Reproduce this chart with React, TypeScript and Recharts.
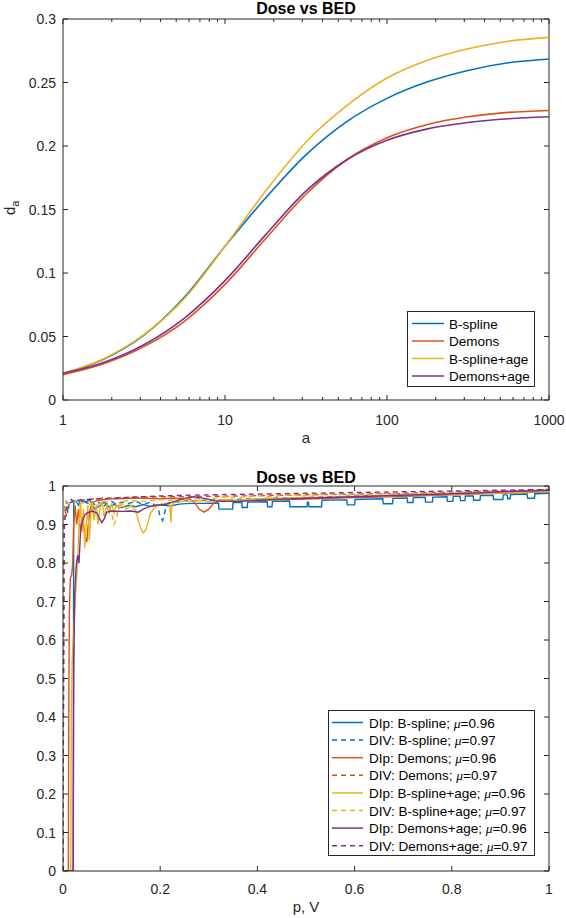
import React from "react";
import { LineChart, Line, XAxis, YAxis, Legend, ReferenceLine } from "recharts";

const FONT = '"Liberation Sans", Arial, Helvetica, sans-serif';
const AX = "#262626";
const BLUE = "#0072BD";
const ORANGE = "#D95319";
const YELLOW = "#EDB120";
const PURPLE = "#7E2F8E";

// top chart: dose vs a (log axis), sampled every quarter decade
const A = [1, 1.78, 3.16, 5.62, 10, 17.8, 31.6, 56.2, 100, 178, 316, 562, 1000];
const BSPLINE = [0.021, 0.032, 0.051, 0.081, 0.121, 0.159, 0.193, 0.219, 0.2375, 0.2505, 0.2595, 0.2655, 0.2685];
const DEMONS = [0.02, 0.0285, 0.042, 0.062, 0.091, 0.127, 0.162, 0.189, 0.2065, 0.217, 0.223, 0.2265, 0.228];
const BSPLINE_AGE = [0.021, 0.0325, 0.0515, 0.08, 0.121, 0.1645, 0.203, 0.2315, 0.2535, 0.2675, 0.2765, 0.2825, 0.2855];
const DEMONS_AGE = [0.021, 0.0295, 0.0435, 0.0645, 0.094, 0.13, 0.1645, 0.189, 0.2045, 0.2135, 0.2185, 0.2215, 0.223];
const A_TICKS = [1, 2, 3, 4, 5, 6, 7, 8, 9, 10, 20, 30, 40, 50, 60, 70, 80, 90, 100, 200, 300, 400, 500, 600, 700, 800, 900, 1000];
const A_MAJOR = [1, 10, 100, 1000];
const D_TICKS = [0, 0.05, 0.1, 0.15, 0.2, 0.25, 0.3];

// bottom chart: [p, value] per series
const DIP_BS: [number, number][] = [
  [0, 0], [0.021, 0], [0.022, 0.955], [0.026, 0.962], [0.032, 0.95], [0.036, 0.963], [0.045, 0.958], [0.055, 0.964],
  [0.065, 0.94], [0.075, 0.948], [0.085, 0.958], [0.095, 0.945], [0.105, 0.952], [0.12, 0.944], [0.135, 0.95],
  [0.15, 0.946], [0.165, 0.952], [0.18, 0.947], [0.2, 0.951], [0.22, 0.948], [0.24, 0.953], [0.26, 0.955],
  [0.29, 0.955], [0.32, 0.956], [0.321, 0.94], [0.349, 0.94], [0.35, 0.957], [0.368, 0.957], [0.369, 0.944],
  [0.379, 0.944], [0.38, 0.958], [0.42, 0.959], [0.421, 0.946], [0.43, 0.946], [0.431, 0.96], [0.466, 0.961],
  [0.467, 0.946], [0.502, 0.946], [0.503, 0.958], [0.505, 0.958], [0.506, 0.946], [0.532, 0.946], [0.533, 0.963],
  [0.584, 0.964], [0.585, 0.951], [0.6, 0.951], [0.601, 0.965], [0.658, 0.967], [0.659, 0.954], [0.678, 0.954],
  [0.679, 0.968], [0.708, 0.969], [0.709, 0.957], [0.72, 0.957], [0.721, 0.97], [0.745, 0.97], [0.746, 0.958],
  [0.76, 0.958], [0.761, 0.971], [0.79, 0.972], [0.791, 0.96], [0.802, 0.96], [0.803, 0.973], [0.817, 0.973],
  [0.818, 0.962], [0.827, 0.962], [0.828, 0.974], [0.844, 0.974], [0.845, 0.963], [0.858, 0.963], [0.859, 0.975],
  [0.885, 0.976], [0.886, 0.965], [0.905, 0.965], [0.906, 0.977], [0.914, 0.977], [0.915, 0.967], [0.92, 0.967],
  [0.921, 0.978], [0.955, 0.979], [0.956, 0.968], [0.97, 0.968], [0.971, 0.98], [1, 0.981],
];
const DIV_BS: [number, number][] = [
  [0, 0], [0.001, 0.55], [0.002, 0.88], [0.004, 0.95], [0.007, 0.962], [0.01, 0.93], [0.013, 0.958], [0.017, 0.965],
  [0.022, 0.96], [0.028, 0.966], [0.035, 0.958], [0.042, 0.963], [0.05, 0.955], [0.058, 0.962], [0.066, 0.95],
  [0.074, 0.958], [0.082, 0.945], [0.09, 0.955], [0.1, 0.96], [0.11, 0.952], [0.12, 0.958], [0.135, 0.955],
  [0.15, 0.96], [0.165, 0.952], [0.18, 0.958], [0.195, 0.945], [0.2, 0.92], [0.205, 0.91], [0.21, 0.935],
  [0.215, 0.955], [0.23, 0.958], [0.26, 0.962], [0.3, 0.963], [0.35, 0.965], [0.4, 0.967], [0.45, 0.969],
  [0.5, 0.97], [0.55, 0.972], [0.6, 0.974], [0.65, 0.975], [0.7, 0.977], [0.75, 0.978], [0.8, 0.98],
  [0.85, 0.982], [0.9, 0.984], [0.95, 0.986], [1, 0.988],
];
const DIP_DM: [number, number][] = [
  [0, 0], [0.011, 0], [0.012, 0.45], [0.013, 0.66], [0.015, 0.76], [0.018, 0.77], [0.02, 0.8], [0.022, 0.9],
  [0.025, 0.95], [0.028, 0.9], [0.032, 0.94], [0.036, 0.88], [0.04, 0.92], [0.045, 0.87], [0.049, 0.855],
  [0.052, 0.9], [0.056, 0.94], [0.06, 0.955], [0.065, 0.96], [0.075, 0.963], [0.09, 0.966], [0.11, 0.967],
  [0.14, 0.968], [0.17, 0.968], [0.2, 0.967], [0.23, 0.968], [0.26, 0.966], [0.27, 0.958], [0.28, 0.94],
  [0.29, 0.932], [0.3, 0.94], [0.31, 0.955], [0.32, 0.962], [0.35, 0.961], [0.4, 0.963], [0.45, 0.965],
  [0.5, 0.966], [0.55, 0.968], [0.6, 0.97], [0.65, 0.971], [0.7, 0.973], [0.75, 0.975], [0.8, 0.977],
  [0.85, 0.979], [0.9, 0.981], [0.95, 0.983], [1, 0.985],
];
const DIV_DM: [number, number][] = [
  [0, 0], [0.001, 0.6], [0.002, 0.9], [0.004, 0.935], [0.007, 0.925], [0.01, 0.945], [0.015, 0.955], [0.02, 0.96],
  [0.03, 0.962], [0.05, 0.965], [0.08, 0.968], [0.12, 0.97], [0.16, 0.971], [0.2, 0.972], [0.25, 0.972],
  [0.3, 0.973], [0.35, 0.974], [0.4, 0.975], [0.5, 0.977], [0.6, 0.979], [0.7, 0.981], [0.8, 0.984],
  [0.9, 0.987], [1, 0.99],
];
const DIP_BSA: [number, number][] = [
  [0, 0], [0.016, 0], [0.017, 0.4], [0.019, 0.55], [0.022, 0.62], [0.025, 0.7], [0.027, 0.74], [0.03, 0.8],
  [0.033, 0.9], [0.036, 0.96], [0.039, 0.88], [0.042, 0.94], [0.045, 0.84], [0.048, 0.9], [0.051, 0.95],
  [0.054, 0.86], [0.057, 0.92], [0.06, 0.96], [0.064, 0.91], [0.068, 0.95], [0.072, 0.9], [0.076, 0.94],
  [0.08, 0.96], [0.085, 0.92], [0.09, 0.95], [0.095, 0.93], [0.1, 0.955], [0.105, 0.93], [0.11, 0.95],
  [0.115, 0.94], [0.12, 0.955], [0.13, 0.94], [0.14, 0.95], [0.15, 0.935], [0.155, 0.91], [0.16, 0.89],
  [0.165, 0.878], [0.17, 0.885], [0.175, 0.905], [0.18, 0.93], [0.19, 0.945], [0.2, 0.952], [0.21, 0.955],
  [0.22, 0.95], [0.222, 0.905], [0.224, 0.95], [0.23, 0.958], [0.25, 0.96], [0.28, 0.962], [0.3, 0.96],
  [0.33, 0.965], [0.36, 0.963], [0.4, 0.967], [0.45, 0.968], [0.5, 0.97], [0.55, 0.971], [0.6, 0.973],
  [0.65, 0.974], [0.7, 0.976], [0.75, 0.977], [0.8, 0.979], [0.85, 0.98], [0.9, 0.982], [0.95, 0.984], [1, 0.986],
];
const DIV_BSA: [number, number][] = [
  [0, 0], [0.001, 0.5], [0.002, 0.85], [0.004, 0.94], [0.007, 0.96], [0.01, 0.955], [0.015, 0.962], [0.02, 0.958],
  [0.03, 0.963], [0.04, 0.955], [0.05, 0.96], [0.06, 0.945], [0.065, 0.92], [0.07, 0.95], [0.08, 0.962],
  [0.09, 0.958], [0.1, 0.93], [0.105, 0.9], [0.11, 0.915], [0.115, 0.95], [0.12, 0.96], [0.14, 0.962],
  [0.17, 0.96], [0.2, 0.965], [0.23, 0.962], [0.26, 0.968], [0.3, 0.966], [0.33, 0.972], [0.36, 0.97],
  [0.4, 0.975], [0.43, 0.972], [0.46, 0.977], [0.5, 0.975], [0.55, 0.979], [0.6, 0.977], [0.65, 0.981],
  [0.7, 0.979], [0.75, 0.983], [0.8, 0.981], [0.85, 0.985], [0.9, 0.983], [0.95, 0.987], [1, 0.988],
];
const DIP_DMA: [number, number][] = [
  [0, 0], [0.021, 0], [0.022, 0.5], [0.024, 0.72], [0.027, 0.79], [0.03, 0.82], [0.033, 0.8], [0.036, 0.88],
  [0.04, 0.91], [0.045, 0.925], [0.05, 0.93], [0.06, 0.935], [0.07, 0.93], [0.075, 0.915], [0.08, 0.905],
  [0.085, 0.915], [0.09, 0.932], [0.1, 0.935], [0.12, 0.934], [0.14, 0.935], [0.155, 0.932], [0.165, 0.94],
  [0.175, 0.945], [0.19, 0.95], [0.21, 0.952], [0.23, 0.96], [0.25, 0.968], [0.27, 0.972], [0.29, 0.968],
  [0.31, 0.962], [0.33, 0.96], [0.36, 0.96], [0.4, 0.963], [0.45, 0.966], [0.5, 0.968], [0.55, 0.97],
  [0.6, 0.972], [0.65, 0.974], [0.7, 0.976], [0.75, 0.978], [0.8, 0.98], [0.85, 0.982], [0.9, 0.985],
  [0.95, 0.987], [1, 0.989],
];
const DIV_DMA: [number, number][] = [
  [0, 0], [0.001, 0.45], [0.002, 0.8], [0.003, 0.9], [0.005, 0.93], [0.008, 0.945], [0.012, 0.955], [0.02, 0.96],
  [0.03, 0.963], [0.05, 0.965], [0.08, 0.967], [0.12, 0.969], [0.16, 0.972], [0.2, 0.974], [0.25, 0.976],
  [0.3, 0.977], [0.35, 0.978], [0.4, 0.979], [0.5, 0.981], [0.6, 0.983], [0.7, 0.985], [0.8, 0.987],
  [0.9, 0.989], [1, 0.991],
];
const P_TICKS = [0, 0.2, 0.4, 0.6, 0.8, 1];
const V_TICKS = [0, 0.1, 0.2, 0.3, 0.4, 0.5, 0.6, 0.7, 0.8, 0.9, 1];

const doseData = A.map((a, i) => ({
  a,
  bs: BSPLINE[i],
  dm: DEMONS[i],
  bsa: BSPLINE_AGE[i],
  dma: DEMONS_AGE[i],
}));

const TOP_SERIES = [
  { key: "bs", name: "B-spline", color: BLUE },
  { key: "dm", name: "Demons", color: ORANGE },
  { key: "bsa", name: "B-spline+age", color: YELLOW },
  { key: "dma", name: "Demons+age", color: PURPLE },
];

const BOTTOM_SERIES = [
  { pts: DIP_BS, kind: "DIp", name: "B-spline", mu: "0.96", color: BLUE, dash: false },
  { pts: DIV_BS, kind: "DIV", name: "B-spline", mu: "0.97", color: BLUE, dash: true },
  { pts: DIP_DM, kind: "DIp", name: "Demons", mu: "0.96", color: ORANGE, dash: false },
  { pts: DIV_DM, kind: "DIV", name: "Demons", mu: "0.97", color: ORANGE, dash: true },
  { pts: DIP_BSA, kind: "DIp", name: "B-spline+age", mu: "0.96", color: YELLOW, dash: false },
  { pts: DIV_BSA, kind: "DIV", name: "B-spline+age", mu: "0.97", color: YELLOW, dash: true },
  { pts: DIP_DMA, kind: "DIp", name: "Demons+age", mu: "0.96", color: PURPLE, dash: false },
  { pts: DIV_DMA, kind: "DIV", name: "Demons+age", mu: "0.97", color: PURPLE, dash: true },
];

// plot boxes (chart-local svg coords)
const TB = { left: 63, right: 549, top: 19, bottom: 400 };
const BB = { left: 63, right: 549, top: 26, bottom: 411 };

const makeXTick = (box: typeof TB, labelDy: number, isMajor: (v: number) => boolean) => (props: any) => {
  const { x, payload } = props;
  const v = payload.value;
  const major = isMajor(v);
  const len = major ? 5 : 3;
  return (
    <g>
      <line x1={x} x2={x} y1={box.bottom} y2={box.bottom - len} stroke={AX} />
      <line x1={x} x2={x} y1={box.top} y2={box.top + len} stroke={AX} />
      {major && (
        <text x={x} y={box.bottom + labelDy} textAnchor="middle" fontSize={14} fontFamily={FONT} fill={AX}>
          {v}
        </text>
      )}
    </g>
  );
};

const makeYTick = (box: typeof TB) => (props: any) => {
  const { y, payload } = props;
  return (
    <g>
      <line x1={box.left} x2={box.left + 5} y1={y} y2={y} stroke={AX} />
      <line x1={box.right} x2={box.right - 5} y1={y} y2={y} stroke={AX} />
      <text x={box.left - 7} y={y + 5} textAnchor="end" fontSize={14} fontFamily={FONT} fill={AX}>
        {payload.value}
      </text>
    </g>
  );
};

const TopLegend = () => (
  <svg width={128} height={76} style={{ display: "block" }}>
    <rect x={0.5} y={0.5} width={127} height={75} fill="#fff" stroke={AX} />
    {TOP_SERIES.map((s, i) => {
      const y = 12.5 + i * 17.5;
      return (
        <g key={s.key}>
          <line x1={5} x2={37} y1={y} y2={y} stroke={s.color} strokeWidth={1.5} />
          <text x={42} y={y + 5} fontSize={13.5} fontFamily={FONT} fill="#000">{s.name}</text>
        </g>
      );
    })}
  </svg>
);

const BottomLegend = () => (
  <svg width={207} height={146} style={{ display: "block" }}>
    <rect x={0.5} y={0.5} width={206} height={145} fill="#fff" stroke={AX} />
    {BOTTOM_SERIES.map((s, i) => {
      const y = 12.5 + i * 17.6;
      return (
        <g key={i}>
          <line x1={4} x2={35} y1={y} y2={y} stroke={s.color} strokeWidth={1.5} strokeDasharray={s.dash ? "5 4" : undefined} />
          <text x={41} y={y + 5} fontSize={13.5} fontFamily={FONT} fill="#000">
            {`${s.kind}: ${s.name}; `}
            <tspan fontStyle="italic" fontFamily='"Liberation Serif", serif'>μ</tspan>
            {`=${s.mu}`}
          </text>
        </g>
      );
    })}
  </svg>
);

export default function App() {
  return (
    <div style={{ position: "absolute", left: 0, top: 0, width: 566, height: 918, background: "#fff", fontFamily: FONT }}>
      {/* 上段: Dose vs a */}
      <div style={{ position: "absolute", left: 0, top: 0 }}>
        <LineChart width={566} height={460} data={doseData} margin={{ top: 19, right: 17, bottom: 10, left: 13 }}>
          <XAxis
            dataKey="a"
            type="number"
            scale="log"
            domain={[1, 1000]}
            allowDataOverflow
            ticks={A_TICKS}
            interval={0}
            height={50}
            stroke={AX}
            tickLine={false}
            tick={makeXTick(TB, 25, (v) => A_MAJOR.includes(v))}
          />
          <YAxis
            type="number"
            domain={[0, 0.3]}
            allowDataOverflow
            ticks={D_TICKS}
            interval={0}
            width={50}
            stroke={AX}
            tickLine={false}
            tick={makeYTick(TB)}
          />
          <ReferenceLine y={0.3} stroke={AX} />
          <ReferenceLine x={1000} stroke={AX} />
          {TOP_SERIES.map((s) => (
            <Line
              key={s.key}
              type="monotone"
              dataKey={s.key}
              name={s.name}
              stroke={s.color}
              strokeWidth={1.6}
              dot={false}
              activeDot={false}
              isAnimationActive={false}
            />
          ))}
          <Legend
            layout="vertical"
            align="center"
            verticalAlign="middle"
            wrapperStyle={{ left: 407, top: 311, width: 128, height: 76 }}
            content={() => <TopLegend />}
          />
        </LineChart>
      </div>

      {/* 下段: p, V */}
      <div style={{ position: "absolute", left: 0, top: 460 }}>
        <LineChart width={566} height={458} margin={{ top: 26, right: 17, bottom: 7, left: 13 }}>
          <XAxis
            dataKey="p"
            type="number"
            domain={[0, 1]}
            allowDataOverflow
            ticks={P_TICKS}
            interval={0}
            height={40}
            stroke={AX}
            tickLine={false}
            tick={makeXTick(BB, 23, () => true)}
          />
          <YAxis
            type="number"
            domain={[0, 1]}
            allowDataOverflow
            ticks={V_TICKS}
            interval={0}
            width={50}
            stroke={AX}
            tickLine={false}
            tick={makeYTick(BB)}
          />
          <ReferenceLine y={1} stroke={AX} />
          <ReferenceLine x={1} stroke={AX} />
          {BOTTOM_SERIES.map((s, i) => (
            <Line
              key={i}
              data={s.pts.map(([p, v]) => ({ p, v }))}
              type="linear"
              dataKey="v"
              name={`${s.kind}: ${s.name}`}
              stroke={s.color}
              strokeWidth={1.4}
              strokeDasharray={s.dash ? "5 4" : undefined}
              dot={false}
              activeDot={false}
              isAnimationActive={false}
            />
          ))}
          <Legend
            layout="vertical"
            align="center"
            verticalAlign="middle"
            wrapperStyle={{ left: 328, top: 250, width: 207, height: 146 }}
            content={() => <BottomLegend />}
          />
        </LineChart>
      </div>

      {/* titles and axis labels */}
      <svg width={566} height={918} style={{ position: "absolute", left: 0, top: 0, pointerEvents: "none" }}>
        <text x={306} y={13.5} textAnchor="middle" fontSize={16} fontWeight="bold" fontFamily={FONT} fill="#000">Dose vs BED</text>
        <text x={306} y={482.5} textAnchor="middle" fontSize={16} fontWeight="bold" fontFamily={FONT} fill="#000">Dose vs BED</text>
        <text x={306} y={443} textAnchor="middle" fontSize={15} fontFamily={FONT} fill={AX}>a</text>
        <text x={306} y={912} textAnchor="middle" fontSize={15} fontFamily={FONT} fill={AX}>p, V</text>
        <text transform="translate(15,215) rotate(-90)" fontSize={15} fontFamily={FONT} fill={AX}>
          d<tspan fontSize={11} dy={4}>a</tspan>
        </text>
      </svg>
    </div>
  );
}
